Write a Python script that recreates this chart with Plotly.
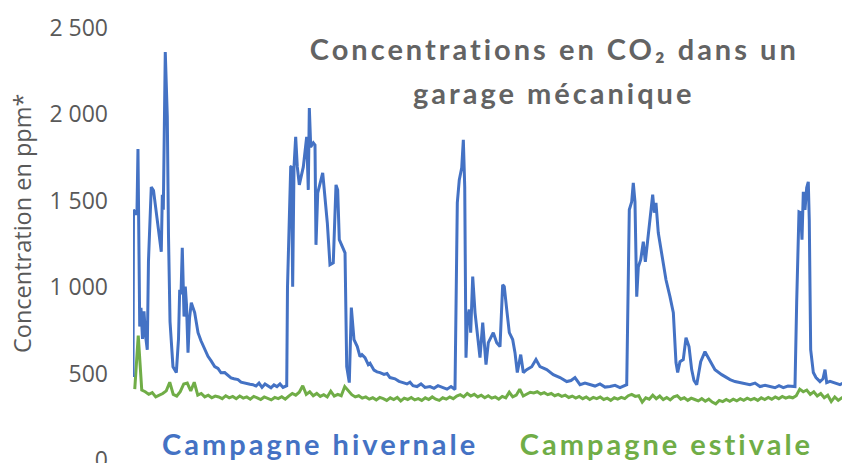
import plotly.graph_objects as go

# ---------------- data ----------------
# Winter campaign (hours since start, CO2 ppm)
hiver_h = [0.0, 0.07, 0.47, 0.57, 0.71, 0.96, 1.14, 1.36, 1.57, 1.79, 2.04, 2.21, 2.61, 2.93, 3.43, 4.04,
           4.19, 4.33, 4.61, 4.79, 4.9, 5.07, 5.29, 5.71, 6.19, 6.5, 6.67, 6.86, 7.04, 7.29, 7.47, 7.64,
           7.86, 8.07, 8.33, 8.81, 9.29, 9.71, 10.24, 10.71, 11.14, 11.67, 12.14, 12.57, 13.1, 13.57, 14.0,
           14.43, 15.0, 15.43, 15.86, 16.29, 16.71, 17.14, 17.57, 18.0, 18.43, 18.86, 19.29, 19.71, 20.14,
           20.57, 21.0, 21.43, 21.96, 22.07, 22.53, 22.64, 22.81, 23.0, 23.24, 23.47, 23.76, 24.33, 24.81,
           25.04, 25.19, 25.39, 25.76, 26.0, 26.14, 26.39, 27.1, 27.76, 28.14, 28.61, 29.0, 29.24, 29.47,
           29.96, 30.29, 30.53, 30.9, 31.19, 31.57, 32.04, 32.43, 32.71, 33.14, 33.61, 33.86, 34.43, 34.86,
           35.29, 35.86, 36.29, 36.71, 37.43, 38.0, 38.57, 39.14, 39.57, 40.0, 40.57, 41.14, 41.71, 42.43,
           43.0, 43.57, 44.29, 44.86, 45.43, 46.0, 46.33, 46.61, 46.96, 47.19, 47.39, 47.57, 47.76, 48.04,
           48.24, 48.53, 48.86, 49.19, 49.57, 49.96, 50.43, 50.76, 51.24, 51.47, 51.96, 52.43, 52.81, 53.04,
           53.39, 53.76, 54.24, 54.57, 54.9, 55.39, 55.76, 56.24, 56.96, 57.57, 58.14, 59.1, 60.04, 61.0,
           61.96, 62.57, 63.14, 63.86, 64.57, 65.29, 66.0, 66.71, 67.43, 68.14, 68.86, 69.57, 70.14, 70.53,
           70.9, 71.24, 71.47, 71.71, 71.96, 72.19, 72.53, 72.9, 73.19, 73.61, 73.96, 74.24, 74.47, 74.71,
           75.04, 75.53, 76.14, 76.71, 77.19, 77.57, 77.81, 78.14, 78.61, 79.0, 79.43, 79.81, 80.14, 80.53,
           81.1, 81.71, 82.33, 83.14, 84.1, 84.71, 85.29, 86.0, 86.71, 87.43, 88.14, 88.86, 89.57, 90.29,
           91.0, 91.71, 92.29, 92.9, 93.57, 94.57, 94.81, 95.14, 95.39, 95.57, 95.76, 96.0, 96.24, 96.47,
           96.61, 96.81, 97.19, 97.57, 98.14, 98.57, 98.86, 99.1, 99.57, 100.04, 100.57, 101.0, 101.43]
hiver_ppm = [480, 1448, 1420, 1440, 1800, 772, 880, 700, 860, 720, 638, 1150, 1580, 1560, 1400, 1205,
             1535, 1448, 2361, 2050, 1985, 1300, 800, 540, 506, 700, 985, 960, 1228, 830, 1003, 900,
             621, 820, 910, 853, 737, 690, 639, 600, 575, 541, 530, 505, 506, 490, 475,
             470, 465, 450, 445, 440, 438, 436, 428, 445, 420, 440, 430, 418, 435,
             425, 440, 420, 430, 1000, 1696, 1700, 1003, 1696, 1870, 1696, 1592, 1696, 1870,
             1563, 2037, 1812, 1835, 1823, 1245, 1546, 1662, 1373, 1130, 1141, 1592, 1563, 1275,
             1234, 1199, 540, 448, 882, 697, 656, 598, 610, 592, 552, 560, 520, 510,
             506, 495, 500, 477, 470, 455, 448, 440, 450, 430, 425, 440, 420, 425,
             415, 430, 419, 410, 425, 408, 1488, 1621, 1691, 1853, 1581, 592, 812, 870,
             737, 1061, 853, 714, 592, 795, 552, 679, 714, 737, 679, 656, 1014, 1003,
             870, 737, 697, 621, 506, 610, 506, 523, 540, 581, 540, 523, 494, 477,
             454, 460, 477, 436, 445, 436, 428, 440, 422, 425, 432, 419, 428, 436,
             1448, 1494, 1604, 1494, 945, 1118, 1159, 1263, 1147, 1303, 1448, 1535, 1431, 1488,
             1315, 1199, 1043, 945, 853, 564, 506, 569, 581, 708, 656, 523, 460, 436,
             569, 627, 581, 523, 494, 478, 465, 454, 448, 440, 436, 445, 425, 432,
             425, 418, 430, 419, 428, 425, 910, 1436, 1431, 1275, 1552, 1448, 1575, 1610,
             1390, 639, 506, 477, 454, 470, 523, 448, 455, 448, 440, 436, 445]

# Summer campaign: one reading every half hour, starting at 0.25 h
ete_start_h = 0.25
ete_step_h = 0.5
ete_ppm = [410, 720, 405, 395, 380, 390, 365, 375, 385, 400, 450, 380, 370, 395, 440, 445,
           400, 450, 375, 385, 365, 375, 360, 370, 365, 355, 372, 360, 368, 355, 370, 358,
           365, 352, 368, 360, 350, 365, 357, 348, 362, 355, 366, 352, 370, 385, 375, 392,
           430, 380, 395, 372, 385, 368, 378, 365, 398, 370, 380, 372, 425, 400, 378, 365,
           372, 358, 365, 352, 360, 348, 362, 355, 345, 360, 350, 362, 342, 358, 350, 362,
           348, 355, 345, 360, 350, 365, 352, 345, 360, 352, 365, 355, 370, 378, 365, 385,
           370, 380, 365, 375, 360, 372, 358, 365, 352, 368, 360, 392, 365, 375, 410, 370,
           380, 392, 388, 395, 382, 390, 378, 385, 372, 380, 368, 375, 362, 370, 358, 368,
           355, 365, 350, 362, 355, 365, 350, 358, 345, 360, 352, 362, 355, 372, 380, 368,
           372, 335, 360, 352, 375, 355, 370, 350, 362, 348, 365, 372, 352, 360, 345, 358,
           350, 342, 355, 340, 352, 335, 325, 345, 338, 350, 340, 352, 342, 355, 345, 358,
           348, 356, 345, 360, 350, 362, 352, 365, 355, 368, 358, 365, 360, 372, 410, 395,
           405, 380, 395, 370, 385, 360, 375, 338, 365, 345, 360, 355]
ete_h = [ete_start_h + ete_step_h * i for i in range(len(ete_ppm))]

tick_vals = [0, 500, 1000, 1500, 2000, 2500]
tick_text = ["0", "500", "1 000", "1 500", "2 000", "2 500"]

title_line1 = "Concentrations en CO₂ dans un"
title_line2 = "garage mécanique"
y_title = "Concentration en ppm*"
name_hiver = "Campagne hivernale"
name_ete = "Campagne estivale"

BLUE = "#4472C4"
GREEN = "#70AD47"

# ---------------- figure ----------------
W, H = 842, 463
ML, MR, MT, MB = 133, 0, 28, 0
PW, PH = W - ML - MR, H - MT - MB
PPM_PER_PX = 2500 / 432.0          # vertical scale of the reference
Y_MIN = 2500 - PH * PPM_PER_PX     # slightly below zero so the 0 label sits at the bottom edge


def px(xp):
    return (xp - ML) / PW


def py(yp):
    return (H - MB - yp) / PH


fig = go.Figure()
fig.add_trace(go.Scatter(x=ete_h, y=ete_ppm, mode="lines", name=name_ete,
                         line=dict(color=GREEN, width=3)))
fig.add_trace(go.Scatter(x=hiver_h, y=hiver_ppm, mode="lines", name=name_hiver,
                         line=dict(color=BLUE, width=3)))

fig.update_layout(
    width=W, height=H,
    margin=dict(l=ML, r=MR, t=MT, b=MB, autoexpand=False),
    paper_bgcolor="white", plot_bgcolor="white",
    showlegend=False,
    xaxis=dict(range=[0, PW / 7.0], visible=False, automargin=False),
    yaxis=dict(range=[Y_MIN, 2500], tickvals=tick_vals, ticktext=tick_text,
               showgrid=False, zeroline=False, showline=False, ticks="",
               automargin=False,
               ticklabelstandoff=24, ticklabeloverflow="allow",
               tickfont=dict(family="Open Sans", size=23, color="#595959")),
)

annots = [
    dict(text=y_title, x=px(22), y=py(224), textangle=-90,
         font=dict(family="Open Sans", size=23.5, color="#595959")),
    dict(text=title_line1, x=px(554), y=py(48),
         font=dict(family="Lato", size=29, color="#636363", weight="bold")),
    dict(text=title_line2, x=px(553), y=py(92),
         font=dict(family="Lato", size=29, color="#636363", weight="bold")),
    dict(text=name_hiver, x=px(320), y=py(443),
         font=dict(family="Lato", size=29, color=BLUE, weight="bold")),
    dict(text=name_ete, x=px(666), y=py(443),
         font=dict(family="Lato", size=29, color=GREEN, weight="bold")),
]
for a in annots:
    fig.add_annotation(xref="paper", yref="paper", showarrow=False,
                       xanchor="center", yanchor="middle", **a)

post_js = """
document.body.style.margin = '0';
document.body.style.padding = '0';
var gd = document.getElementById('{plot_id}');
gd.querySelectorAll('.annotation-text').forEach(function (t) {
  if (t.textContent.indexOf('Concentration en') !== 0) {
    t.style.letterSpacing = '3px';
  }
});
"""

fig.write_html("out.html", post_script=post_js, config={"displayModeBar": False})
